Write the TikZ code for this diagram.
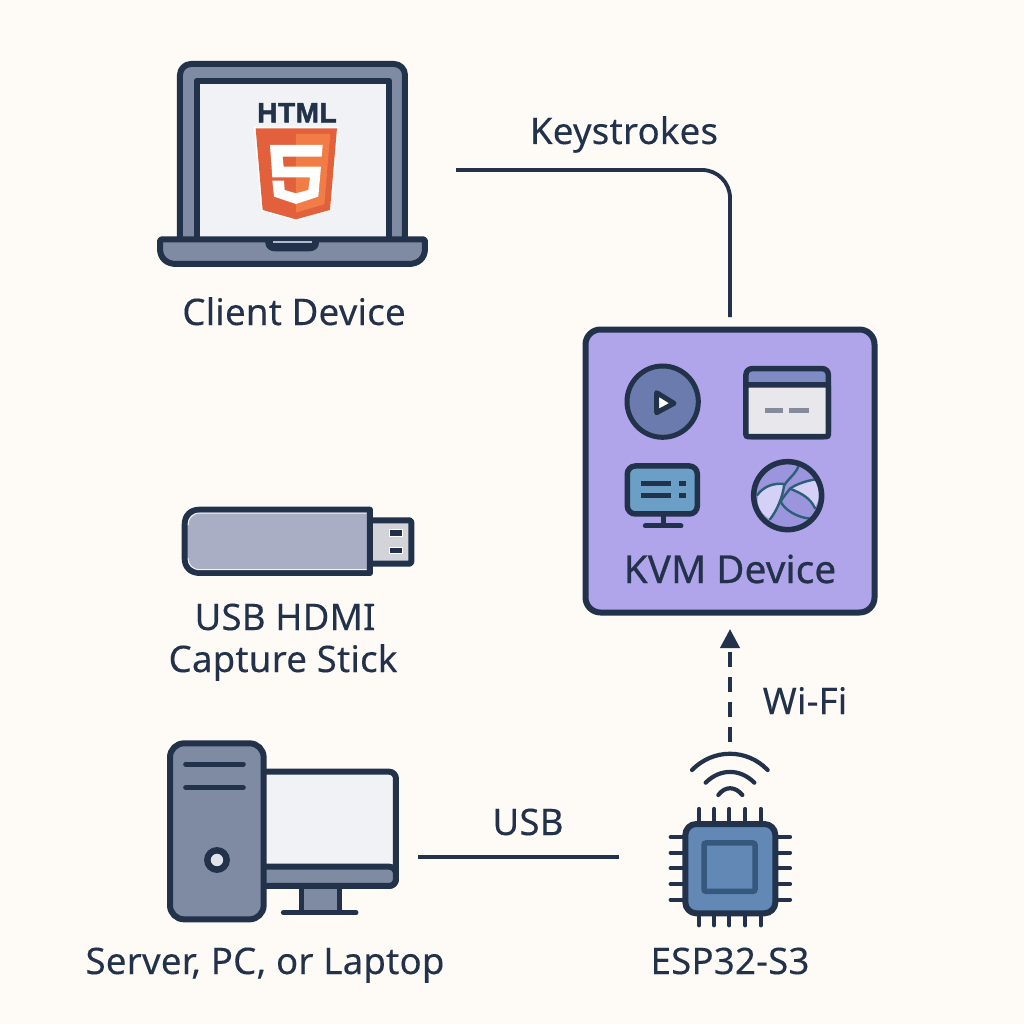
\documentclass[tikz,border=0pt]{standalone}
\usepackage{fontspec}
\setmainfont[FakeBold=0.2,LetterSpace=0.6]{Noto Sans}
\newfontfamily\htmlf[LetterSpace=2,FakeBold=1.8]{Liberation Sans}
\newfontfamily\kvmf[FakeBold=0.7,LetterSpace=0.6]{Noto Sans}
\usetikzlibrary{arrows.meta}
\definecolor{ink}{HTML}{22324A}
\definecolor{bgc}{HTML}{FEFAF6}
\definecolor{slate}{HTML}{7F8BA2}
\definecolor{scr}{HTML}{F1F2F5}
\definecolor{kvm}{HTML}{B0A4EA}
\definecolor{chipc}{HTML}{6288B6}
\definecolor{chipd}{HTML}{36587C}
\definecolor{shieldA}{HTML}{E2603B}
\definecolor{shieldB}{HTML}{F17C45}
\definecolor{connc}{HTML}{D3D4D9}
\definecolor{stickc}{HTML}{A9AEC4}
\definecolor{playc}{HTML}{6B7BAE}
\definecolor{winbar}{HTML}{7F8CC4}
\definecolor{wingr}{HTML}{E8E8EC}
\definecolor{dashc}{HTML}{868B9C}
\definecolor{monc}{HTML}{6C9FC6}
\definecolor{globeA}{HTML}{9A95DC}
\definecolor{globeB}{HTML}{D5D0F5}
\definecolor{globeL}{HTML}{2E5F78}
\tikzset{
  lbl/.style={text=ink,font=\fontsize{36.6}{40}\selectfont,inner sep=0pt,anchor=base},
  conn/.style={draw=ink,line width=3.8pt},
  ol/.style={draw=ink,line width=6pt,line join=round},
  ln/.style={draw=ink,line width=5pt,line cap=round},
  thin/.style={draw=ink,line width=4.2pt,line cap=round},
  gl/.style={draw=globeL,line width=2.4pt,line cap=round},
}
\begin{document}
\begin{tikzpicture}[x=1pt,y=-1pt]
\useasboundingbox (0,0) rectangle (1024,1024);
\fill[bgc] (0,0) rectangle (1024,1024);
% ---- laptop
\begin{scope}[shift={(140,50)},x=.3333pt,y=-.3333pt]
\draw[ol,fill=slate,rounded corners=11pt] (120,565) -- (120,42) -- (795,42) -- (795,565);
\draw[ol,fill=scr] (170,565) -- (170,92) -- (747,92) -- (747,565);
\draw[ol,fill=slate,rounded corners=2pt] (60,568) -- (855,568) -- (855,590) .. controls (855,625) and (835,642) .. (800,642) -- (115,642) .. controls (80,642) and (60,625) .. (60,590) -- cycle;
\draw[ol,fill=ink] (385,568) -- (385,578) .. controls (385,590) and (395,595) .. (405,595) -- (508,595) .. controls (518,595) and (528,590) .. (528,578) -- (528,568);
\fill[slate!60!white] (400,574) rectangle (515,579);
% shield
\fill[white] (342,230) -- (596,230) -- (574,483) -- (468,512) -- (364,483) -- cycle;
\fill[shieldA] (347,235) -- (591,235) -- (570,480) -- (468,508) -- (368,480) -- cycle;
\fill[shieldB] (468,252) -- (571,252) -- (553,463) -- (468,488) -- cycle;
\fill[white] (390,285) -- (548,285) -- (545,320) -- (428,320) -- (431,350) -- (543,350) -- (535,440) -- (468,462) -- (402,440) -- (397,392) -- (432,392) -- (434,420) -- (468,430) -- (505,420) -- (510,382) -- (397,382) -- cycle;
\node[text=ink,inner sep=0pt,font=\fontsize{28}{28}\selectfont\htmlf\bfseries] (html) at (471,188) {HTML};
\end{scope}
\node[lbl] (client) at (294,325) {Client Device};
% ---- USB stick
\begin{scope}[shift={(170,495)},x=.3333pt,y=-.3333pt]
\draw[ol,fill=connc,rounded corners=2pt] (600,76) -- (724,76) -- (724,206) -- (600,206) -- cycle;
\draw[ol,fill=stickc] (600,44) -- (600,234) -- (90,234) .. controls (60,234) and (44,215) .. (44,190) -- (44,90) .. controls (44,62) and (60,44) .. (90,44) -- cycle;
\draw[white!85!stickc,line width=1pt] (590,54) -- (90,54) .. controls (68,54) and (54,70) .. (54,90);
\draw[white!85!stickc,line width=1pt] (54,190) .. controls (54,210) and (68,224) .. (90,224) -- (590,224);
\foreach \yy in {113,167}{
  \draw[white,line width=1pt,fill=ink] (660,\yy-10) rectangle (697,\yy+10);
}
\end{scope}
\node[lbl] (stickA) at (285,630) {USB HDMI};
\node[lbl] (stickB) at (283,672) {Capture Stick};
% ---- computer
\begin{scope}[shift={(150,730)},x=.3333pt,y=-.3333pt]
\draw[ol,fill=scr,rounded corners=7pt] (300,125) -- (738,125) -- (738,468) -- (300,468) -- cycle;
\draw[ol,fill=slate,rounded corners=7pt] (300,410) -- (738,410) -- (738,468) -- (300,468) -- cycle;
\draw[draw=ink,line width=4.5pt,fill=slate] (455,470) rectangle (568,548);
\draw[ln] (400,548) -- (618,548);
\draw[ol,fill=slate,rounded corners=14pt] (60,40) rectangle (341,568);
\draw[ln] (107,102) -- (280,102);
\draw[ln] (107,173) -- (280,173);
\draw[draw=ink,line width=6.5pt,fill=scr!85!slate] (201,390) circle (29);
\end{scope}
\node[lbl] (server) at (265,974) {Server, PC, or Laptop};
% ---- chip
\begin{scope}[shift={(650,740)},x=.3333pt,y=-.3333pt]
\foreach \xx in {147,192,238,286,332}{
  \draw[thin] (\xx,207) -- (\xx,250);
  \draw[thin] (\xx,520) -- (\xx,556);
}
\foreach \yy in {291,338,385,432,479}{
  \draw[thin] (62,\yy) -- (105,\yy);
  \draw[thin] (375,\yy) -- (420,\yy);
}
\draw[ol,fill=chipc,rounded corners=11pt] (106,252) rectangle (376,520);
\draw[draw=chipd,line width=5.5pt,fill=chipc,rounded corners=2pt] (162,309) rectangle (315,454);
\draw[thin] (126,90) .. controls (190,25) and (290,25) .. (353,90);
\draw[thin] (167,128) .. controls (210,85) and (270,85) .. (313,128);
\draw[thin] (205,165) .. controls (225,138) and (255,138) .. (277,165);
\end{scope}
\node[lbl] (esp) at (730,974) {ESP32-S3};
% ---- KVM
\node[draw=ink,line width=6pt,fill=kvm,rounded corners=15pt,minimum width=289pt,minimum height=283pt,inner sep=0pt] (kvmbox) at (730,471) {};
\begin{scope}[shift={(570,320)},x=.3333pt,y=-.3333pt]
% play
\draw[draw=ink,line width=5pt,fill=playc] (278,245) circle (107);
\draw[draw=ink,line width=5pt,fill=white,line join=round] (260,218) -- (312,250) -- (260,278) -- cycle;
% window
\draw[draw=ink,line width=5.5pt,fill=winbar,rounded corners=6pt] (528,146) rectangle (775,350);
\draw[draw=ink,line width=5.5pt,fill=wingr,rounded corners=2pt] (528,195) -- (775,195) -- (775,350) -- (528,350) -- cycle;
\fill[dashc] (585,264) rectangle (640,280);
\fill[dashc] (658,264) rectangle (717,280);
% monitor
\draw[draw=ink,line width=5.5pt,fill=monc,rounded corners=8pt] (172,438) rectangle (382,582);
\fill[ink] (212,482) rectangle (303,498);
\fill[ink] (212,519) rectangle (303,535);
\fill[ink] (327,482) rectangle (349,498);
\fill[ink] (327,519) rectangle (349,535);
\draw[draw=ink,line width=5pt] (280,585) -- (280,618);
\draw[draw=ink,line width=5pt,line cap=round] (226,618) -- (333,618);
% globe
\begin{scope}
\clip (653,527) circle (102);
\fill[globeA] (653,527) circle (102);
\fill[globeB] (565,526) .. controls (580,505) and (610,490) .. (642,495) .. controls (636,530) and (620,565) .. (598,596) .. controls (570,580) and (558,550) .. (565,526) -- cycle;
\fill[globeB] (660,506) .. controls (685,492) and (710,485) .. (735,480) .. controls (750,510) and (750,540) .. (735,562) .. controls (725,535) and (695,520) .. (660,506) -- cycle;
\draw[gl] (562,525) .. controls (580,500) and (610,488) .. (642,492);
\draw[gl] (685,440) .. controls (675,465) and (650,480) .. (642,498) .. controls (638,530) and (622,570) .. (600,598);
\draw[gl] (738,478) .. controls (710,482) and (680,492) .. (660,506) .. controls (652,518) and (640,530) .. (632,545);
\draw[gl] (660,506) .. controls (695,520) and (722,535) .. (735,565);
\draw[gl] (632,545) .. controls (645,570) and (680,592) .. (720,596);
\end{scope}
\draw[draw=ink,line width=5.5pt] (653,527) circle (102);
\end{scope}
\node[lbl,font=\fontsize{38.5}{40}\selectfont\kvmf] (kvmlabel) at (730,583) {KVM Device};
% ---- connectors
\coordinate (kstart) at (456,170);
\coordinate (usbA) at (418,857);
\coordinate (usbB) at (619,857);
\coordinate (wifiA) at (730,742);
\draw[conn,rounded corners=28pt] (kstart) -- (730,170) -- (730,317);
\draw[conn] (usbA) -- (usbB);
\draw[conn,dash pattern=on 15pt off 10pt,-{Triangle[length=19pt,width=19pt]}] (wifiA) -- (730,629);
\node[lbl] (keys) at (624,144) {Keystrokes};
\node[lbl] (usbl) at (528,835) {USB};
\node[lbl] (wifil) at (805,714) {Wi-Fi};
\end{tikzpicture}
\end{document}
